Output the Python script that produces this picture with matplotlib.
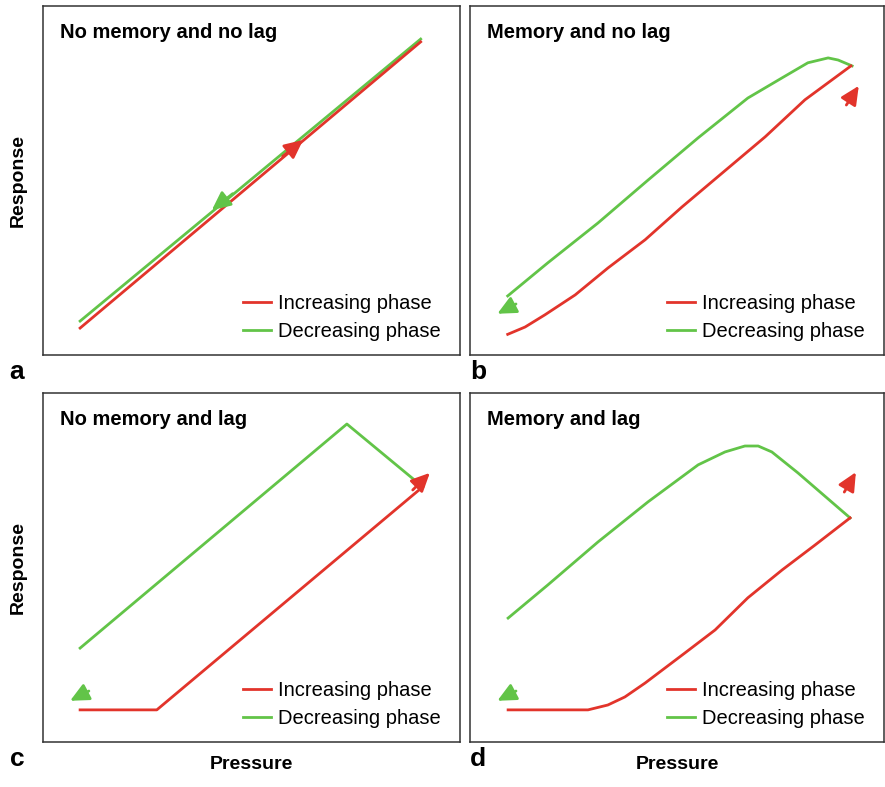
import matplotlib.pyplot as plt

plt.rcParams['font.family'] = ['Liberation Sans', 'DejaVu Sans']

RED = '#e2342b'
GREEN = '#62c448'

# panel a: no memory, no lag
a_inc_x = [8.9, 90.6]
a_inc_y = [7.7, 89.7]
a_dec_x = [8.9, 90.6]
a_dec_y = [9.7, 90.5]
a_inc_arrow = [(57.5, 56.9), (62.4, 61.6)]
a_dec_arrow = [(45.5, 46.2), (40.5, 41.5)]

# panel b: memory, no lag
b_inc_x = [9.1, 13.3, 18.1, 25.4, 33.3, 42.3, 51.2, 60.9, 71.3, 80.9, 92.0]
b_inc_y = [5.9, 8.0, 11.5, 17.2, 24.9, 33.0, 42.4, 52.1, 62.5, 73.1, 82.8]
b_dec_x = [9.1, 18.8, 30.9, 43.0, 55.1, 67.1, 75.4, 81.6, 86.5, 88.9, 92.3]
b_dec_y = [16.9, 26.4, 37.8, 50.1, 62.2, 73.6, 79.4, 83.7, 85.1, 84.5, 82.8]
b_inc_arrow = [(90.9, 71.6), (93.9, 77.1)]
b_dec_arrow = [(11.1, 14.6), (6.6, 11.8)]

# panel c: no memory, lag
c_inc_x = [8.9, 27.3, 91.1]
c_inc_y = [9.2, 9.2, 73.1]
c_dec_x = [8.9, 72.9, 91.1]
c_dec_y = [26.9, 91.1, 73.1]
c_inc_arrow = [(88.7, 72.2), (92.8, 77.1)]
c_dec_arrow = [(11.0, 14.6), (6.5, 11.8)]

# panel d: memory and lag
d_inc_x = [9.2, 28.5, 33.3, 37.4, 42.3, 47.1, 51.9, 59.2, 67.1, 75.4, 83.3, 91.8]
d_inc_y = [9.2, 9.2, 10.6, 12.9, 16.9, 21.2, 25.5, 32.1, 41.3, 49.3, 56.4, 64.2]
d_dec_x = [9.2, 18.8, 30.9, 43.0, 55.1, 61.6, 66.4, 69.6, 72.9, 79.2, 91.8]
d_dec_y = [35.5, 45.0, 57.3, 68.8, 79.4, 83.1, 84.8, 84.8, 83.1, 77.1, 64.2]
d_inc_arrow = [(90.4, 71.6), (93.2, 77.3)]
d_dec_arrow = [(11.1, 14.6), (6.6, 11.8)]

titles = ['No memory and no lag', 'Memory and no lag',
          'No memory and lag', 'Memory and lag']
letters = ['a', 'b', 'c', 'd']

panels = [
    (a_inc_x, a_inc_y, a_dec_x, a_dec_y, a_inc_arrow, a_dec_arrow),
    (b_inc_x, b_inc_y, b_dec_x, b_dec_y, b_inc_arrow, b_dec_arrow),
    (c_inc_x, c_inc_y, c_dec_x, c_dec_y, c_inc_arrow, c_dec_arrow),
    (d_inc_x, d_inc_y, d_dec_x, d_dec_y, d_inc_arrow, d_dec_arrow),
]

# axes rectangles in figure fractions
rects = [
    [0.0486, 0.549, 0.471, 0.4435],
    [0.5311, 0.549, 0.4678, 0.4435],
    [0.0486, 0.0572, 0.471, 0.4435],
    [0.5311, 0.0572, 0.4678, 0.4435],
]

head = '-|>,head_length=0.8,head_width=0.38'

fig = plt.figure(figsize=(8.85, 7.87), dpi=100)

for i in range(4):
    inc_x, inc_y, dec_x, dec_y, inc_arr, dec_arr = panels[i]
    ax = fig.add_axes(rects[i])
    ax.set_xlim(0, 100)
    ax.set_ylim(0, 100)
    ax.set_xticks([])
    ax.set_yticks([])
    for s in ax.spines.values():
        s.set_color('#333333')
        s.set_linewidth(1.1)

    ax.plot(dec_x, dec_y, color=GREEN, lw=2.0, label='Decreasing phase',
            solid_joinstyle='round')
    ax.plot(inc_x, inc_y, color=RED, lw=2.0, label='Increasing phase',
            solid_joinstyle='round')

    ax.annotate('', xy=inc_arr[1], xytext=inc_arr[0],
                arrowprops=dict(arrowstyle=head, mutation_scale=14,
                                color=RED, lw=2.0, shrinkA=0, shrinkB=0))
    ax.annotate('', xy=dec_arr[1], xytext=dec_arr[0],
                arrowprops=dict(arrowstyle=head, mutation_scale=14,
                                color=GREEN, lw=2.0, shrinkA=0, shrinkB=0))

    ax.text(0.04, 0.925, titles[i], transform=ax.transAxes, fontsize=14.5,
            fontweight='bold', va='center', ha='left')

    handles, labels = ax.get_legend_handles_labels()
    ax.legend(handles[::-1], labels[::-1], loc='lower right',
              bbox_to_anchor=(0.988, 0.0), frameon=False, fontsize=14.5,
              handlelength=1.4, handletextpad=0.35, labelspacing=0.45,
              borderaxespad=0.3)

    # panel letter under the lower-left corner
    ax.text(-0.08 if i % 2 == 0 else 0.0, -0.05, letters[i],
            transform=ax.transAxes, fontsize=19, fontweight='bold',
            va='center', ha='left')

    if i % 2 == 0:
        ax.set_ylabel('Response', fontsize=14, fontweight='bold', labelpad=12)
    if i >= 2:
        ax.set_xlabel('Pressure', fontsize=14, fontweight='bold', labelpad=10)

fig.savefig('out.png', dpi=100)
